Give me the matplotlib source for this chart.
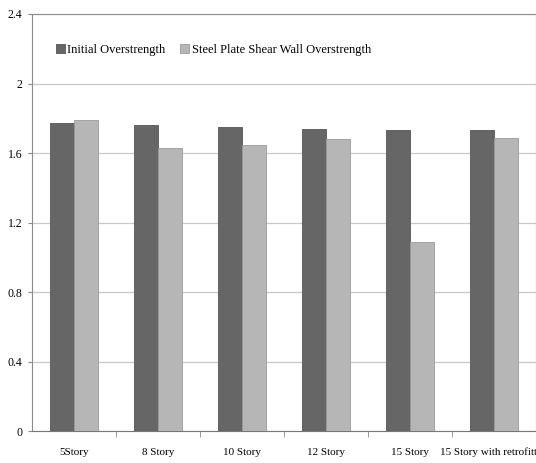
import numpy as np
import matplotlib.pyplot as plt

stories = ['5Story', '8 Story', '10 Story', '12 Story', '15 Story', '15 Story with retrofitted']
initial = [1.77, 1.76, 1.75, 1.74, 1.73, 1.73]
spsw = [1.79, 1.63, 1.645, 1.68, 1.085, 1.685]

plt.rcParams['font.family'] = ['Liberation Serif', 'DejaVu Serif']

fig = plt.figure(figsize=(5.36, 4.63), dpi=100)
ax = fig.add_axes([32/536, 1 - 431/463, 504/536, 417/463])

x = np.arange(len(stories))
w = 0.29
ax.bar(x - w/2, initial, w, color='#666666', edgecolor='#555555', linewidth=0.6,
       label='Initial Overstrength', zorder=3)
ax.bar(x + w/2, spsw, w, color='#b6b6b6', edgecolor='#9a9a9a', linewidth=0.6,
       label='Steel Plate Shear Wall Overstrength', zorder=3)

ax.set_xlim(-0.5, len(stories) - 0.5)
ax.set_ylim(0, 2.4)
ax.set_yticks(np.arange(0, 2.41, 0.4))
ax.set_yticklabels(['0', '0.4', '0.8', '1.2', '1.6', '2', '2.4'], fontsize=8.5)
ax.yaxis.grid(True, color='#c8c8c8', linewidth=0.9, zorder=0)

# category separators on the bottom axis
ax.set_xticks(x)
ax.set_xticklabels(stories, fontsize=8)
ax.set_xticks(np.arange(0.5, len(stories) - 0.5, 1), minor=True)
ax.tick_params(axis='x', which='major', length=0, pad=12)
ax.tick_params(axis='x', which='minor', length=4, color='#888888')
ax.tick_params(axis='y', length=3, color='#888888', pad=4)

for s in ['left', 'top', 'right']:
    ax.spines[s].set_color('#8c8c8c')
ax.spines['bottom'].set_color('#777777')

ax.legend(loc='upper left', bbox_to_anchor=(0.025, 0.955), ncol=2, frameon=False,
          fontsize=9, handlelength=0.7, handleheight=0.7, handletextpad=0.2,
          columnspacing=1.2)

fig.savefig('out.png', dpi=100)
